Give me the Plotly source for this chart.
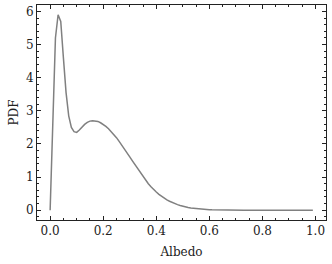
import plotly.graph_objects as go

albedo = [round(i * 0.01, 2) for i in range(100)]
pdf = [
    0.0, 3.0, 5.2, 5.9, 5.7, 4.6, 3.55, 2.85, 2.5, 2.37,
    2.35, 2.42, 2.51, 2.59, 2.65, 2.69, 2.70, 2.70, 2.68, 2.64,
    2.59, 2.53, 2.46, 2.38, 2.29, 2.19, 2.08, 1.97, 1.86, 1.74,
    1.61, 1.49, 1.37, 1.25, 1.13, 1.01, 0.90, 0.80, 0.71, 0.62,
    0.55, 0.48, 0.42, 0.36, 0.31, 0.27, 0.23, 0.20, 0.17, 0.145,
    0.12, 0.10, 0.085, 0.07, 0.06, 0.05, 0.04, 0.033, 0.027, 0.022,
    0.018, 0.014, 0.011, 0.009, 0.007, 0.005, 0.004, 0.003, 0.002, 0.002,
    0.001, 0.001, 0.001, 0.0, 0.0, 0.0, 0.0, 0.0, 0.0, 0.0,
    0.0, 0.0, 0.0, 0.0, 0.0, 0.0, 0.0, 0.0, 0.0, 0.0,
    0.0, 0.0, 0.0, 0.0, 0.0, 0.0, 0.0, 0.0, 0.0, 0.0,
]

x_ticks = [0.0, 0.2, 0.4, 0.6, 0.8, 1.0]
x_ticklabels = ["0.0", "0.2", "0.4", "0.6", "0.8", "1.0"]
y_ticks = [0, 1, 2, 3, 4, 5, 6]
y_ticklabels = ["0", "1", "2", "3", "4", "5", "6"]

fig = go.Figure()
fig.add_trace(go.Scatter(x=albedo, y=pdf, mode="lines",
                         line=dict(color="#808080", width=1.5)))

font = dict(family="DejaVu Serif, serif", size=12, color="#222")
common = dict(showline=True, linecolor="#222", linewidth=1, mirror="allticks",
              ticks="inside", ticklen=4, tickwidth=1, tickcolor="#222",
              showgrid=False, zeroline=False, tickfont=font, automargin=False)

fig.update_xaxes(range=[-0.0495, 1.0395], tickvals=x_ticks, ticktext=x_ticklabels,
                 minor=dict(dtick=0.05, tick0=0, ticks="inside", ticklen=2, tickcolor="#222"),
                 title=dict(text="Albedo", font=font, standoff=10), **common)
fig.update_yaxes(range=[-0.295, 6.195], tickvals=y_ticks, ticktext=y_ticklabels,
                 minor=dict(dtick=0.2, tick0=0, ticks="inside", ticklen=2, tickcolor="#222"),
                 title=dict(text="PDF", font=font, standoff=4), **common)

fig.update_layout(width=332, height=264, margin=dict(l=37, r=6, t=5, b=44),
                  paper_bgcolor="white", plot_bgcolor="white", showlegend=False,
                  font=font)
fig.write_html("out.html", config={"displayModeBar": False},
               post_script="document.body.style.margin='0';document.body.style.overflow='hidden';")
